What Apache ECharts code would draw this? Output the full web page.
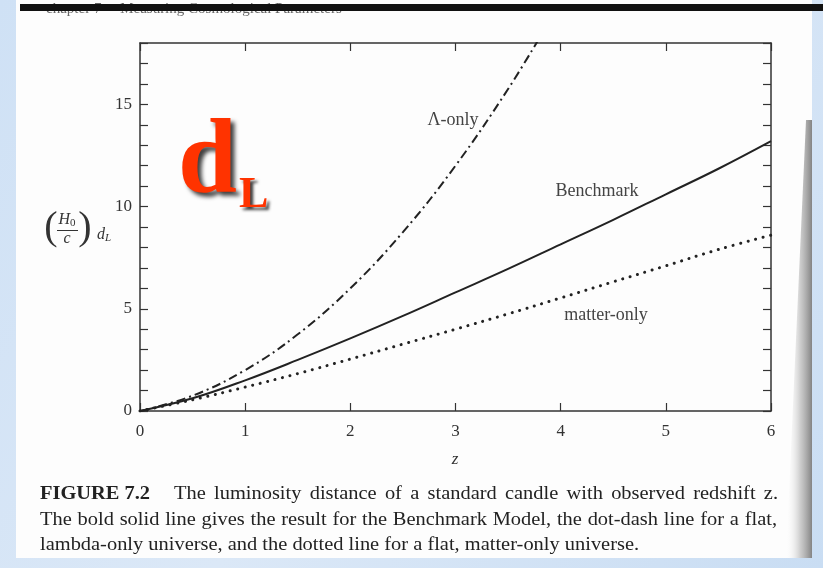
<!DOCTYPE html>
<html>
<head>
<meta charset="utf-8">
<script src="https://cdn.jsdelivr.net/npm/echarts@6/dist/echarts.min.js"></script>
<style>
  html, body { margin: 0; padding: 0; background: #d3e4f6; }
  #chart { width: 823px; height: 568px; }
</style>
</head>
<body>
<div id="chart"></div>
<script>
// Luminosity distance (in units of c/H0) against redshift z for three flat universes
const redshift = [0, 0.5, 1, 1.5, 2, 2.5, 3, 3.5, 4, 4.5, 5, 5.5, 6];
const benchmark = [0, 0.62, 1.5, 2.5, 3.55, 4.65, 5.8, 6.95, 8.15, 9.35, 10.6, 11.85, 13.2];
const matterOnly = [0, 0.55, 1.17, 1.83, 2.54, 3.27, 4.0, 4.75, 5.53, 6.32, 7.1, 7.9, 8.6];
const lambdaRedshift = [0, 0.5, 1, 1.5, 2, 2.5, 3, 3.5, 3.85];
const lambdaOnly = [0, 0.75, 2, 3.75, 6, 8.75, 12, 15.75, 18.7];

const xTickLabels = ['0', '1', '2', '3', '4', '5', '6'];
const yTickLabels = { 0: '0', 5: '5', 10: '10', 15: '15' };
const curveNames = ['Λ-only', 'Benchmark', 'matter-only'];
const headerText = 'chapter 7     Measuring Cosmological Parameters';
const captionTitle = 'FIGURE 7.2';
const captionLines = [
  'The luminosity distance of a standard candle with observed redshift z.',
  'The bold solid line gives the result for the Benchmark Model, the dot-dash line for a flat,',
  'lambda-only universe, and the dotted line for a flat, matter-only universe.'
];

const serif = '"Liberation Serif", "DejaVu Serif", serif';
const ink = '#222';

function pairs(xs, ys) { return xs.map((x, i) => [x, ys[i]]); }

// Lay a line of caption text out word by word; justified lines stretch their word gaps.
const measureCtx = document.createElement('canvas').getContext('2d');
function captionWords(text, font, x0, x1, yMid, sx, justify) {
  measureCtx.font = font;
  const words = text.split(' ');
  const widths = words.map(w => measureCtx.measureText(w).width * sx);
  const total = widths.reduce((a, b) => a + b, 0);
  const gap = justify && words.length > 1
    ? (x1 - x0 - total) / (words.length - 1)
    : measureCtx.measureText(' ').width * sx;
  const out = [];
  let x = x0;
  words.forEach((w, i) => {
    out.push({
      type: 'text', silent: true, x: x, y: yMid, scaleX: sx,
      style: { x: 0, y: 0, text: w, font: font, fill: '#222', verticalAlign: 'middle' }
    });
    x += widths[i] + gap;
  });
  return out;
}

const chart = echarts.init(document.getElementById('chart'), null, { renderer: 'canvas' });

const tickStyle = { show: true, inside: true, length: 8, lineStyle: { color: '#333', width: 1.2 } };
const frameLine = { show: true, onZero: false, lineStyle: { color: '#333', width: 1.5 } };
const captionFont = '19px ' + serif;
const captionScale = 1.075;

chart.setOption({
  backgroundColor: new echarts.graphic.LinearGradient(0, 0, 1, 1, [
    { offset: 0, color: '#cfe1f5' },
    { offset: 0.5, color: '#dbe8f7' },
    { offset: 1, color: '#c9ddf3' }
  ]),
  animation: false,
  grid: { left: 140, right: 52, top: 43, bottom: 157, containLabel: false },
  xAxis: [
    {
      type: 'value', min: 0, max: 6, interval: 1, position: 'bottom',
      axisLine: frameLine, axisTick: tickStyle, splitLine: { show: false },
      axisLabel: {
        margin: 12, color: '#333', fontFamily: serif, fontSize: 17,
        formatter: v => xTickLabels[Math.round(v)] ?? ''
      }
    },
    {
      type: 'value', min: 0, max: 6, interval: 1, position: 'top',
      axisLine: frameLine, axisTick: tickStyle, splitLine: { show: false },
      axisLabel: { show: false }
    }
  ],
  yAxis: [
    {
      type: 'value', min: 0, max: 18, interval: 1, position: 'left',
      axisLine: frameLine, axisTick: tickStyle, splitLine: { show: false },
      axisLabel: {
        margin: 8, color: '#333', fontFamily: serif, fontSize: 17,
        formatter: v => yTickLabels[Math.round(v)] ?? ''
      }
    },
    {
      type: 'value', min: 0, max: 18, interval: 1, position: 'right',
      axisLine: frameLine, axisTick: tickStyle, splitLine: { show: false },
      axisLabel: { show: false }
    }
  ],
  series: [
    {
      name: curveNames[1], type: 'line', data: pairs(redshift, benchmark),
      smooth: 0.4, showSymbol: false, clip: true,
      lineStyle: { color: ink, width: 2 }
    },
    {
      name: curveNames[2], type: 'line', data: pairs(redshift, matterOnly),
      smooth: 0.4, showSymbol: false, clip: true,
      lineStyle: { color: ink, width: 3, type: [0.1, 7.6], cap: 'round' }
    },
    {
      name: curveNames[0], type: 'line', data: pairs(lambdaRedshift, lambdaOnly),
      smooth: 0.4, showSymbol: false, clip: true,
      lineStyle: { color: ink, width: 2, type: [9, 4, 2, 4] }
    }
  ],
  graphic: [
    // the white page
    { type: 'rect', z: -10, silent: true, shape: { x: 16, y: 0, width: 796, height: 558 }, style: { fill: '#fdfdfd' } },
    // shading where the page bends at its right edge
    {
      type: 'polygon', z: -9, silent: true,
      shape: { points: [[812, 120], [812, 558], [786, 558], [806, 120]] },
      style: {
        fill: new echarts.graphic.LinearGradient(0, 0, 1, 0, [
          { offset: 0, color: 'rgba(253,253,253,0)' },
          { offset: 0.55, color: 'rgba(185,185,185,0.7)' },
          { offset: 1, color: 'rgba(125,125,125,0.95)' }
        ])
      }
    },
    // running header, its upper half hidden under the rule
    { type: 'text', z: -8, silent: true, x: 46, y: 2, style: { x: 0, y: 0, text: headerText, font: '15px ' + serif, fill: '#666', verticalAlign: 'top' } },
    { type: 'rect', z: -7, silent: true, shape: { x: 20, y: 4, width: 803, height: 7 }, style: { fill: '#111' } },

    // curve names
    { type: 'text', style: { x: 453, y: 120, text: curveNames[0], font: '18px ' + serif, fill: '#444', align: 'center', verticalAlign: 'middle' } },
    { type: 'text', style: { x: 597, y: 191, text: curveNames[1], font: '18px ' + serif, fill: '#444', align: 'center', verticalAlign: 'middle' } },
    { type: 'text', style: { x: 606, y: 315, text: curveNames[2], font: '18px ' + serif, fill: '#444', align: 'center', verticalAlign: 'middle' } },

    // x axis name
    { type: 'text', style: { x: 455, y: 460, text: 'z', font: 'italic 17px ' + serif, fill: '#333', align: 'center', verticalAlign: 'middle' } },

    // y axis name: (H0 / c) d_L
    { type: 'text', style: { x: 51, y: 228, text: '(', font: '40px ' + serif, fill: '#333', align: 'center', verticalAlign: 'middle' } },
    { type: 'text', style: { x: 85, y: 228, text: ')', font: '40px ' + serif, fill: '#333', align: 'center', verticalAlign: 'middle' } },
    {
      type: 'text', style: {
        x: 67, y: 220, align: 'center', verticalAlign: 'middle',
        text: '{i|H}{s|0}', fill: '#333',
        rich: { i: { font: 'italic 16px ' + serif, fill: '#333' }, s: { font: '11px ' + serif, fill: '#333', padding: [6, 0, 0, 0] } }
      }
    },
    { type: 'rect', shape: { x: 57, y: 230, width: 21, height: 1 }, style: { fill: '#333' } },
    { type: 'text', style: { x: 67, y: 239, text: 'c', font: 'italic 16px ' + serif, fill: '#333', align: 'center', verticalAlign: 'middle' } },
    {
      type: 'text', style: {
        x: 97, y: 235, align: 'left', verticalAlign: 'middle',
        text: '{i|d}{s|L}', fill: '#333',
        rich: { i: { font: 'italic 16px ' + serif, fill: '#333' }, s: { font: 'italic 11px ' + serif, fill: '#333', padding: [6, 0, 0, 0] } }
      }
    },

    // big red d_L with a drop shadow
    {
      type: 'text', z: 20, style: {
        x: 178, y: 112, text: 'd', font: 'bold 106px ' + serif, fill: '#ff3300', verticalAlign: 'top',
        textShadowColor: 'rgba(0,0,0,0.75)', textShadowBlur: 4, textShadowOffsetX: 4, textShadowOffsetY: 4
      }
    },
    {
      type: 'text', z: 20, style: {
        x: 239, y: 174, text: 'L', font: 'bold 44px ' + serif, fill: '#ff3300', verticalAlign: 'top',
        textShadowColor: 'rgba(0,0,0,0.75)', textShadowBlur: 3, textShadowOffsetX: 3, textShadowOffsetY: 3
      }
    },

    // caption
    {
      type: 'text', silent: true, x: 40, y: 494, scaleX: captionScale,
      style: { x: 0, y: 0, text: captionTitle, font: 'bold ' + captionFont, fill: '#222', verticalAlign: 'middle' }
    },
    ...captionWords(captionLines[0], captionFont, 174, 778, 494, captionScale, true),
    ...captionWords(captionLines[1], captionFont, 40, 777, 520, captionScale, true),
    ...captionWords(captionLines[2], captionFont, 40, 640, 545, captionScale, false)
  ]
});
</script>
</body>
</html>
